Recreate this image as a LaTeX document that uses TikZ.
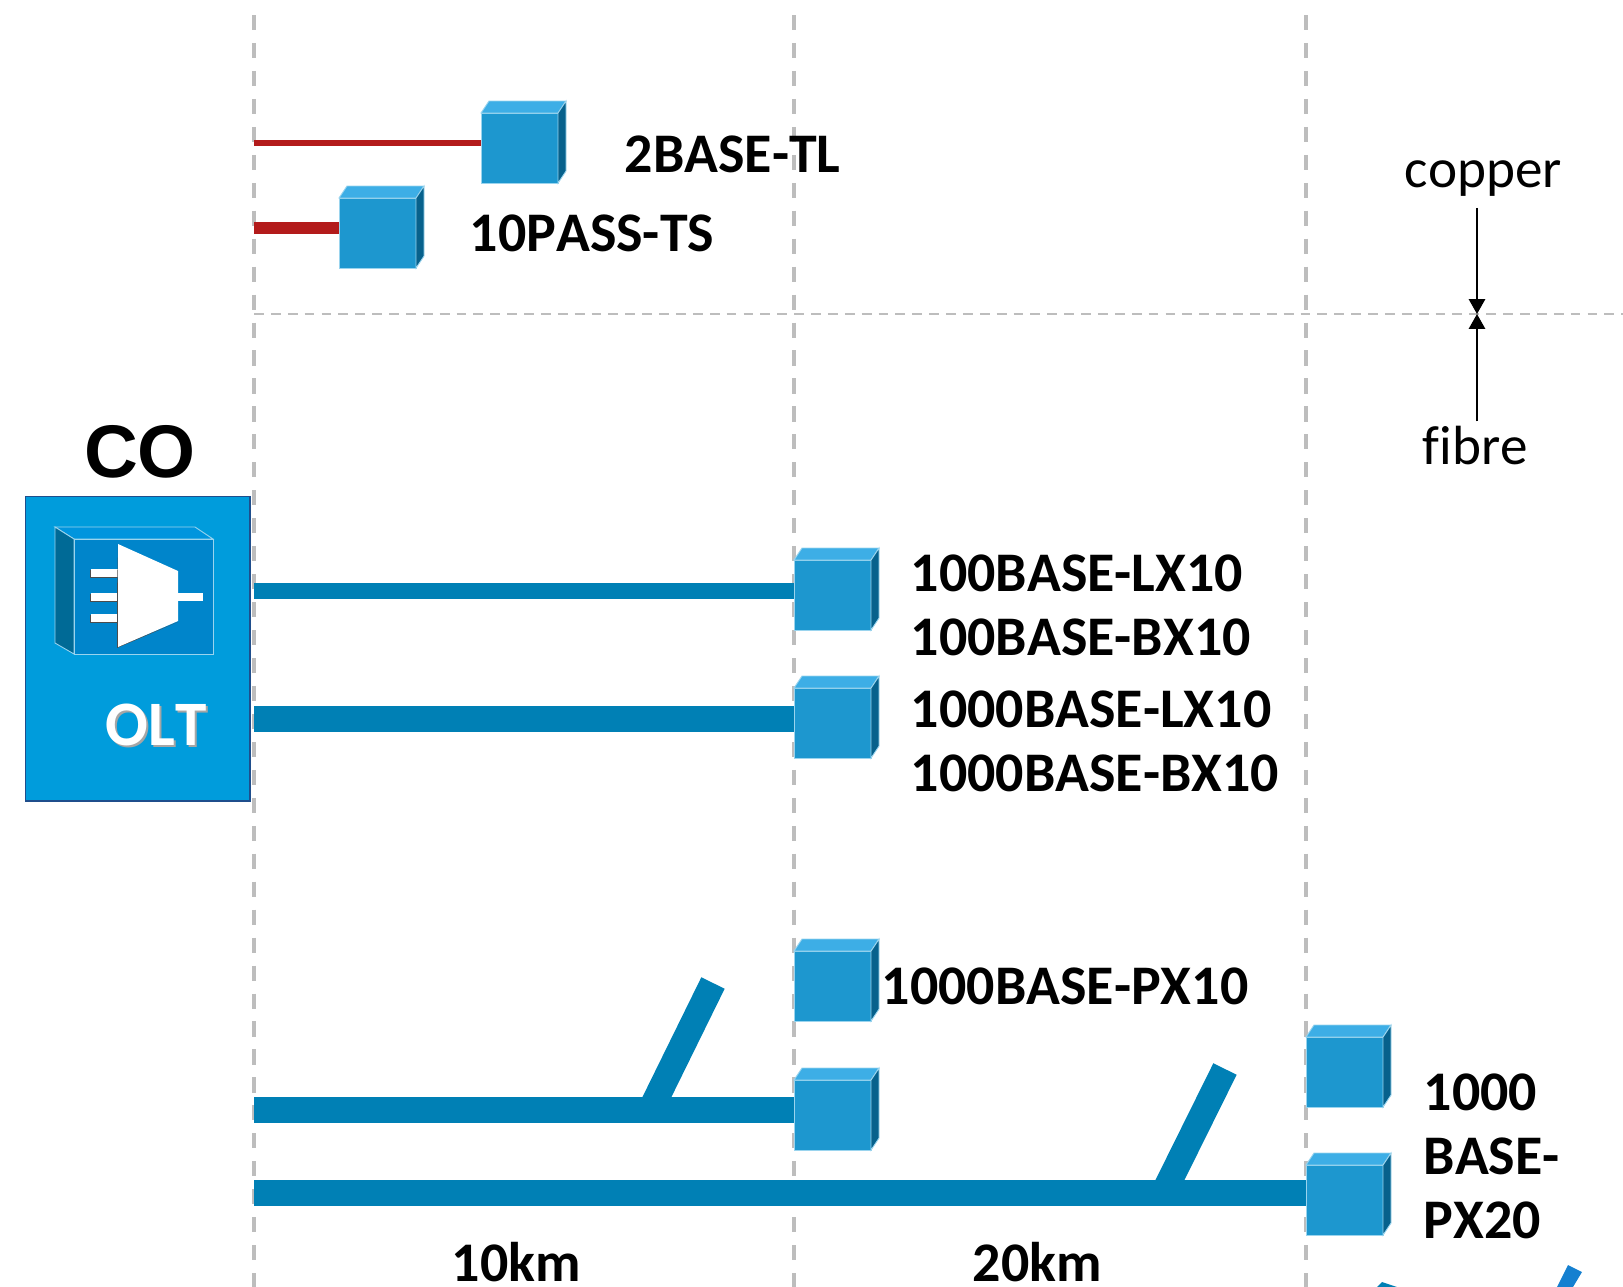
\documentclass[tikz,border=0pt]{standalone}
\usepackage{fontspec}
\setmainfont{Carlito}[Ligatures=NoCommon,Kerning=Off]
\newfontfamily\cofont{Liberation Sans}
\usetikzlibrary{arrows.meta}
\definecolor{cubefront}{HTML}{1D97CF}
\definecolor{cubetop}{HTML}{3DAEE6}
\definecolor{cubeside}{HTML}{07618C}
\definecolor{cubeline}{HTML}{9AD4EE}
\definecolor{fibreblue}{HTML}{0080B5}
\definecolor{copperred}{HTML}{B31B1B}
\definecolor{oltblue}{HTML}{009CDC}
\definecolor{olttop}{HTML}{0095DE}
\definecolor{oltfront}{HTML}{0085CB}
\definecolor{oltside}{HTML}{006A96}
\definecolor{oltline}{HTML}{1F4E8C}
\definecolor{dashgray}{HTML}{BDBDBD}
\definecolor{cropblue}{HTML}{1580D0}

\begin{document}
\begin{tikzpicture}[
        x=0.01cm, y=-0.01cm,
        cube/.style={rectangle, draw=cubeline, line width=0.25pt, fill=cubefront, anchor=north west, inner sep=0pt, outer sep=0pt, minimum width=0.77cm, minimum height=0.70cm},
        fibre/.style={draw=fibreblue, line width=#1*0.01cm},
        copper/.style={draw=copperred, line width=#1*0.01cm},
        reach/.style={draw=dashgray, line width=1.05pt, dash pattern=on 4.3pt off 3.65pt},
        split/.style={draw=dashgray, line width=0.4pt, dash pattern=on 2.8pt off 2pt},
        std/.style={anchor=base west, font=\bfseries\fontsize{15.9}{18}\selectfont, text=black, inner sep=0pt, text depth=0pt},
        medium/.style={anchor=base west, font=\fontsize{15.7}{18}\selectfont, text=black, inner sep=0pt},
        pointer/.style={-{Triangle[length=4.2pt,width=4.6pt]}, line width=0.5pt, draw=black}
    ]
    \useasboundingbox (0,0) rectangle (1623,1287);

    % reach limits
    \foreach \name/\x in {v0/254, v1/794, v2/1306} {
        \coordinate (\name a) at (\x,15);
        \coordinate (\name b) at (\x,1287);
        \draw[reach] (\name a) -- (\name b);
    }
    \coordinate (h0) at (254,314);
    \coordinate (h1) at (1623,314);
    \draw[split] (h0) -- (h1);

    % CU boxes
    \foreach \name/\x/\y in {tl/481/113, ts/339/198, lx/794/560, lxg/794/688, pxa/794/951, pxb/794/1080, pca/1306/1037, pcb/1306/1165} {
        \node[cube] (\name) at (\x,\y) {};
        \draw[draw=cubeline, line width=0.25pt, fill=cubetop] (\name.north west) -- ++(8,-12) -- ++(77,0) -- (\name.north east) -- cycle;
        \draw[draw=cubeline, line width=0.25pt, fill=cubeside] (\name.north east) -- ++(8,-12) -- ++(0,70) -- (\name.south east) -- cycle;
    }

    % CO
    \node[font=\cofont\bfseries\fontsize{21.2}{24}\selectfont, text=black] (co) at (140,452) {CO};
    \node[draw=oltline, line width=0.4pt, fill=oltblue, minimum width=2.24cm, minimum height=3.04cm, inner sep=0pt, anchor=north west] (olt) at (25,496) {};
    \draw[draw=cubeline, line width=0.25pt, fill=olttop] (55,527) -- (195,527) -- (213,539) -- (74,539) -- cycle;
    \draw[draw=cubeline, line width=0.25pt, fill=oltside] (55,527) -- (74,539) -- (74,654) -- (55,643) -- cycle;
    \draw[draw=cubeline, line width=0.25pt, fill=oltfront] (74,539) rectangle (213,654);
    \foreach \y in {573, 597, 618} {
        \fill[black!70] (90,\y-3) rectangle (117,\y+5);
        \fill[white] (91,\y-4) rectangle (119,\y+4);
    }
    \fill[black!70] (117,545) -- (117,648) -- (178,622) -- (119,646) -- cycle;
    \fill[white] (118,544) -- (178,571) -- (178,621) -- (118,647) -- cycle;
    \fill[white] (178,593) rectangle (203,601);
    \node[std, text=black!35] (oltshade) at (107,747) {\fontsize{18}{20}\selectfont OLT};
    \node[std, text=white] (oltlabel) at (105,745) {\fontsize{18}{20}\selectfont OLT};

    % copper links
    \coordinate (r1) at (254,143);
    \coordinate (r2) at (254,228);
    \draw[copper=6] (r1) -- (tl.west |- r1);
    \draw[copper=12.5] (r2) -- (ts.west |- r2);

    % fibre links
    \coordinate (f1) at (254,591);
    \coordinate (f2) at (254,719);
    \coordinate (f3) at (254,1110);
    \coordinate (f4) at (254,1193);
    \coordinate (b1) at (653,1105);
    \coordinate (b1t) at (713,983);
    \coordinate (b2) at (1166,1188);
    \coordinate (b2t) at (1225,1069);
    \draw[fibre=16] (f1) -- (lx.west |- f1);
    \draw[fibre=26] (f2) -- (lxg.west |- f2);
    \draw[fibre=26] (f3) -- (pxb.west |- f3);
    \draw[fibre=26] (f4) -- (pcb.west |- f4);
    \draw[fibre=26] (b1) -- (b1t);
    \draw[fibre=26] (b2) -- (b2t);

    % labels
    \node[std] (ltl) at (624,172) {2BASE-TL};
    \node[std] (lts) at (469,251) {10PASS-TS};
    \node[std] (l1) at (910,591) {100BASE-LX10};
    \node[std] (l2) at (910,655) {100BASE-BX10};
    \node[std] (l3) at (910,727) {1000BASE-LX10};
    \node[std] (l4) at (910,791) {1000BASE-BX10};
    \node[std] (l5) at (881,1004) {1000BASE-PX10};
    \node[std] (l6) at (1423,1110) {1000};
    \node[std] (l7) at (1423,1174) {BASE-};
    \node[std] (l8) at (1423,1238) {PX20};
    \node[std] (km1) at (451,1281) {10km};
    \node[std] (km2) at (972,1281) {20km};

    % boundary
    \node[medium] (cu) at (1404,187) {copper};
    \node[medium] (fi) at (1422,464) {fibre};
    \coordinate (cut) at (1477,314);
    \draw[pointer, shorten <=3.2pt] (cu.south -| cut) -- (cut);
    \draw[pointer, shorten <=1pt] (fi.north -| cut) -- (cut);

    % cropped at the lower edge
    \fill[fibreblue] (1377,1287) -- (1382,1282) -- (1397,1287) -- cycle;
    \fill[cropblue] (1557,1287) -- (1568,1265) -- (1582,1272) -- (1573,1287) -- cycle;
\end{tikzpicture}
\end{document}
